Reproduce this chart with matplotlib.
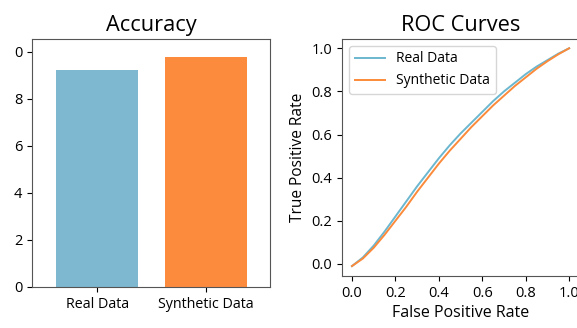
import numpy as np
import matplotlib
matplotlib.use('Agg')
import matplotlib.pyplot as plt

plt.rcParams['font.family'] = ['Open Sans', 'DejaVu Sans']

# ========== data ==========
bar_labels = ['Real Data', 'Synthetic Data']
accuracy = [9.25, 9.77]
acc_ticks = [0, 2, 4, 6, 8, 10]
acc_tick_labels = ['0', '2', '4', '6', '8', '0']

fpr = [0.0, 0.05, 0.1, 0.15, 0.2, 0.25, 0.3, 0.35, 0.4, 0.45, 0.5,
       0.55, 0.6, 0.65, 0.7, 0.75, 0.8, 0.85, 0.9, 0.95, 1.0]
tpr_real = [-0.01, 0.03, 0.085, 0.15, 0.22, 0.29, 0.36, 0.425, 0.49, 0.55, 0.605,
            0.655, 0.705, 0.755, 0.80, 0.84, 0.88, 0.915, 0.945, 0.975, 1.0]
tpr_synth = [-0.01, 0.025, 0.075, 0.135, 0.20, 0.265, 0.335, 0.40, 0.465, 0.525, 0.58,
             0.635, 0.685, 0.735, 0.78, 0.825, 0.865, 0.905, 0.94, 0.972, 1.0]

bar_colors = ['#7db8d0', '#fd8b3d']
line_colors = ['#6bb7cf', '#fb8a3a']

fig = plt.figure(figsize=(5.77, 3.28), dpi=100)

# ========== Accuracy ==========
ax1 = fig.add_axes([32/577, 1 - 287/328, 238/577, 248/328])
ax1.bar(range(len(bar_labels)), accuracy, color=bar_colors, width=0.75)
ax1.set_xticks(range(len(bar_labels)))
ax1.set_xticklabels(bar_labels, fontsize=10.3)
ax1.set_yticks(acc_ticks)
ax1.set_yticklabels(acc_tick_labels, fontsize=10.5)
ax1.set_xlim(-0.6, 1.59)
ax1.set_ylim(0, 10.55)
ax1.set_title('Accuracy', fontsize=15.7, pad=6)
for s in ax1.spines.values():
    s.set_color('#555555')

# ========== ROC ==========
ax2 = fig.add_axes([342/577, 1 - 276/328, 238/577, 237/328])
ax2.plot(fpr, tpr_real, color=line_colors[0], lw=1.4, label='Real Data')
ax2.plot(fpr, tpr_synth, color=line_colors[1], lw=1.4, label='Synthetic Data')
ax2.set_xlim(-0.046, 1.05)
ax2.set_ylim(-0.056, 1.043)
ax2.set_xticks([0.0, 0.2, 0.4, 0.6, 0.8, 1.0])
ax2.set_yticks([0.0, 0.2, 0.4, 0.6, 0.8, 1.0])
ax2.tick_params(labelsize=10.5)
ax2.set_xlabel('False Positive Rate', fontsize=11.5, labelpad=3)
ax2.set_ylabel('True Positive Rate', fontsize=11.2)
ax2.set_title('ROC Curves', fontsize=15.7, pad=6)
ax2.legend(loc='upper left', fontsize=10, handlelength=2.2)
for s in ax2.spines.values():
    s.set_color('#555555')

fig.savefig('out.png', dpi=100)
